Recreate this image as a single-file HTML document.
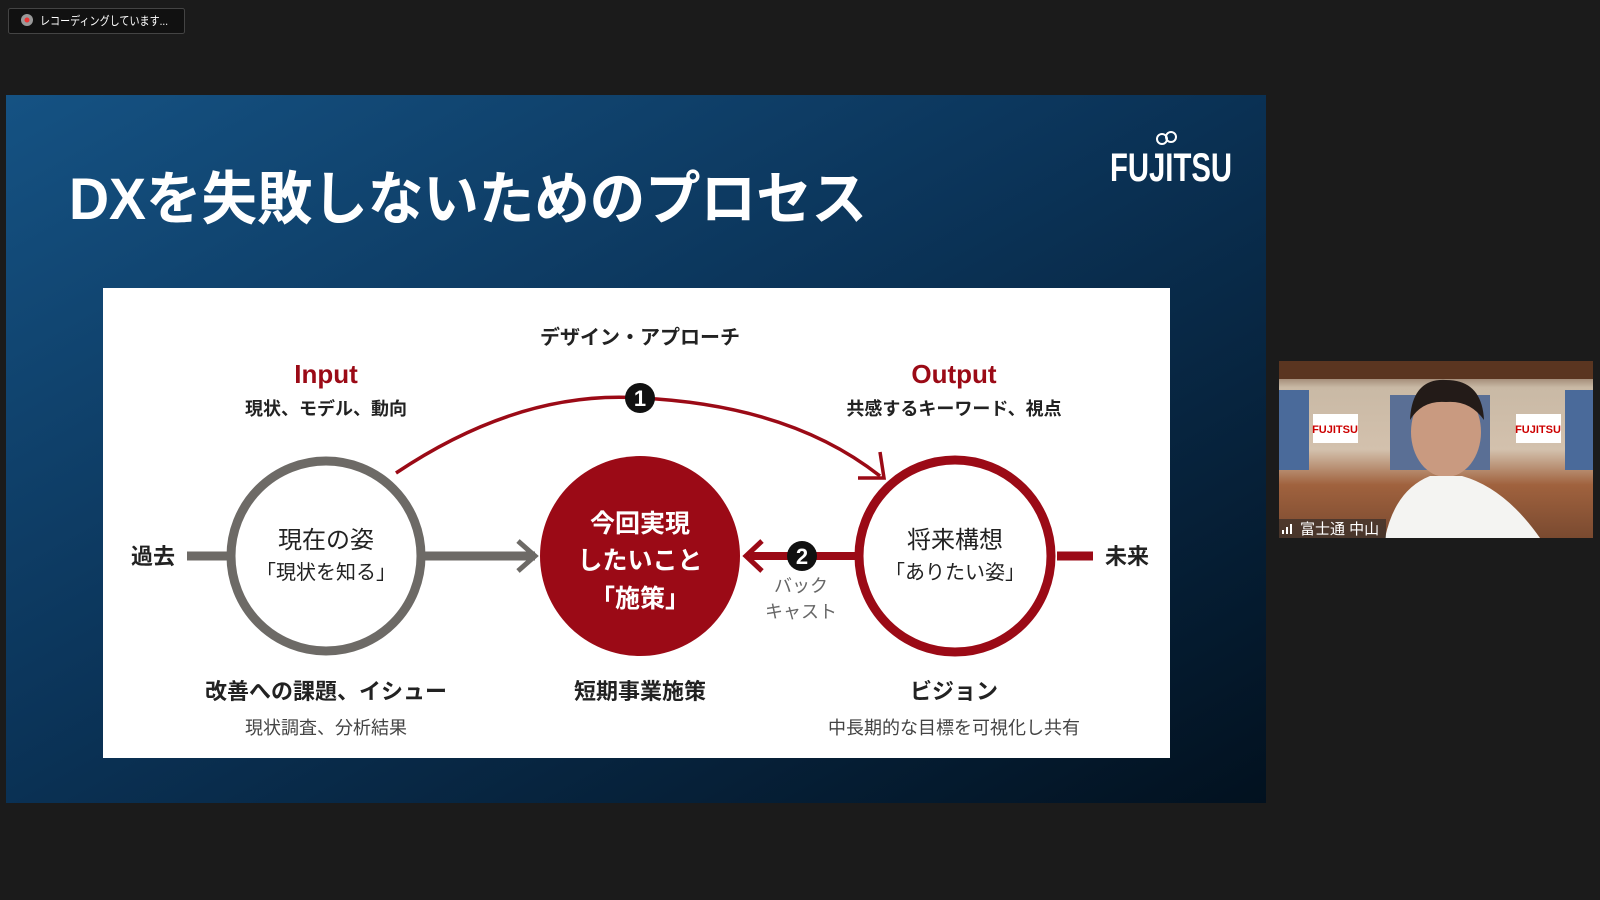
<!DOCTYPE html>
<html><head><meta charset="utf-8"><style>
html,body{margin:0;padding:0;background:#1b1b1b;width:1600px;height:900px;overflow:hidden}
svg{display:block}
text{font-family:"Liberation Sans","Noto Sans CJK JP",sans-serif}
</style></head><body>
<svg width="1600" height="900" viewBox="0 0 1600 900" xmlns="http://www.w3.org/2000/svg">
<defs>
<linearGradient id="bg" x1="0" y1="0" x2="1" y2="1">
<stop offset="0" stop-color="#155283"/><stop offset="0.45" stop-color="#0b3459"/><stop offset="1" stop-color="#02111f"/>
</linearGradient>
<linearGradient id="vid" x1="0" y1="0" x2="0" y2="1">
<stop offset="0" stop-color="#5a3520"/><stop offset="0.15" stop-color="#c9b9a5"/><stop offset="0.5" stop-color="#d3c1ad"/><stop offset="0.7" stop-color="#a0623e"/><stop offset="1" stop-color="#7a4a30"/>
</linearGradient>
</defs>
<rect width="1600" height="900" fill="#1b1b1b"/>
<rect x="8.5" y="8.5" width="176" height="25" rx="2" fill="#111" stroke="#444"/>
<circle cx="27" cy="20" r="6" fill="#999"/><circle cx="27" cy="20" r="2.5" fill="#e33"/>
<text x="40" y="25" font-size="12" fill="#fff" textLength="128" lengthAdjust="spacingAndGlyphs">レコーディングしています...</text>
<rect x="6" y="95" width="1260" height="708" fill="url(#bg)"/>
<text x="69" y="219" font-size="58" fill="#fff" font-weight="bold" textLength="798" lengthAdjust="spacingAndGlyphs">DXを失敗しないためのプロセス</text>
<text x="1110" y="181" font-size="40" fill="#fff" font-weight="bold" textLength="122" lengthAdjust="spacingAndGlyphs">FUJITSU</text>
<circle cx="1162" cy="139" r="5" fill="none" stroke="#fff" stroke-width="2"/><circle cx="1171" cy="137" r="5" fill="none" stroke="#fff" stroke-width="2"/>
<rect x="103" y="288" width="1067" height="470" fill="#fff"/>
<g stroke="#6d6a66" stroke-width="9" fill="none">
<line x1="187" y1="556" x2="228" y2="556"/>
<line x1="424" y1="556" x2="535" y2="556"/>
<polyline points="518,541 535,556 518,571" stroke-width="5"/>
<circle cx="326" cy="556" r="95"/>
</g>
<circle cx="640" cy="556" r="100" fill="#9b0a16"/>
<g stroke="#9b0a16" fill="none">
<circle cx="955" cy="556" r="96" stroke-width="9"/>
<line x1="1057" y1="556" x2="1093" y2="556" stroke-width="9"/>
<line x1="750" y1="556" x2="857" y2="556" stroke-width="8"/>
<polyline points="762,541 746,556 762,571" stroke-width="5"/>
<path d="M396,473 Q520,390 640,398 Q790,405 880,476" stroke-width="3.5"/>
<polyline points="880,452 884,478 858,478" stroke-width="3.5"/>
</g>
<circle cx="640" cy="398" r="15" fill="#111"/>
<text x="640" y="406" font-size="22" fill="#fff" font-weight="bold" text-anchor="middle">1</text>
<circle cx="802" cy="556" r="15" fill="#111"/>
<text x="802" y="564" font-size="22" fill="#fff" font-weight="bold" text-anchor="middle">2</text>
<g text-anchor="middle" fill="#222">
<text x="640" y="344" font-size="20" font-weight="bold">デザイン・アプローチ</text>
<text x="326" y="383" font-size="26" fill="#9b0a16" font-weight="bold">Input</text>
<text x="326" y="415" font-size="18" font-weight="bold">現状、モデル、動向</text>
<text x="954" y="383" font-size="26" fill="#9b0a16" font-weight="bold">Output</text>
<text x="954" y="415" font-size="18" font-weight="bold">共感するキーワード、視点</text>
<text x="153" y="564" font-size="22" font-weight="bold">過去</text>
<text x="1127" y="564" font-size="22" font-weight="bold">未来</text>
<text x="326" y="548" font-size="24">現在の姿</text>
<text x="326" y="579" font-size="20">「現状を知る」</text>
<text x="955" y="548" font-size="24">将来構想</text>
<text x="955" y="579" font-size="20">「ありたい姿」</text>
<g fill="#fff" font-weight="bold" font-size="25">
<text x="640" y="532">今回実現</text>
<text x="640" y="569">したいこと</text>
<text x="640" y="607">「施策」</text>
</g>
<text x="801" y="592" font-size="18" fill="#666">バック</text>
<text x="801" y="618" font-size="18" fill="#666">キャスト</text>
<text x="326" y="699" font-size="22" font-weight="bold">改善への課題、イシュー</text>
<text x="326" y="734" font-size="18" fill="#444">現状調査、分析結果</text>
<text x="640" y="699" font-size="22" font-weight="bold">短期事業施策</text>
<text x="954" y="699" font-size="22" font-weight="bold">ビジョン</text>
<text x="954" y="734" font-size="18" fill="#444">中長期的な目標を可視化し共有</text>
</g>
<rect x="1279" y="361" width="314" height="177" fill="url(#vid)"/>
<rect x="1279" y="361" width="314" height="18" fill="#5a3520"/>
<rect x="1279" y="390" width="30" height="80" fill="#4a6a9a"/>
<rect x="1565" y="390" width="28" height="80" fill="#4a6a9a"/>
<rect x="1390" y="395" width="100" height="75" fill="#5a6f95"/>
<rect x="1313" y="414" width="45" height="29" fill="#fff"/>
<text x="1335" y="433" font-size="11" fill="#c00" font-weight="bold" text-anchor="middle">FUJITSU</text>
<rect x="1516" y="414" width="45" height="29" fill="#fff"/>
<text x="1538" y="433" font-size="11" fill="#c00" font-weight="bold" text-anchor="middle">FUJITSU</text>
<ellipse cx="1446" cy="432" rx="35" ry="45" fill="#c99a80"/>
<path d="M1410,420 Q1412,378 1446,380 Q1482,380 1484,420 Q1470,400 1446,402 Q1422,400 1410,420Z" fill="#231b18"/>
<path d="M1385,538 Q1395,490 1430,476 L1462,476 Q1505,488 1540,538Z" fill="#f4f4f2"/>
<rect x="1279" y="519" width="107" height="19" fill="rgba(40,40,40,0.6)"/>
<text x="1300" y="534" font-size="15" fill="#fff">富士通 中山</text>
<rect x="1282" y="530" width="2" height="4" fill="#fff"/><rect x="1286" y="527" width="2" height="7" fill="#fff"/><rect x="1290" y="524" width="2" height="10" fill="#fff"/>
</svg>
</body></html>
